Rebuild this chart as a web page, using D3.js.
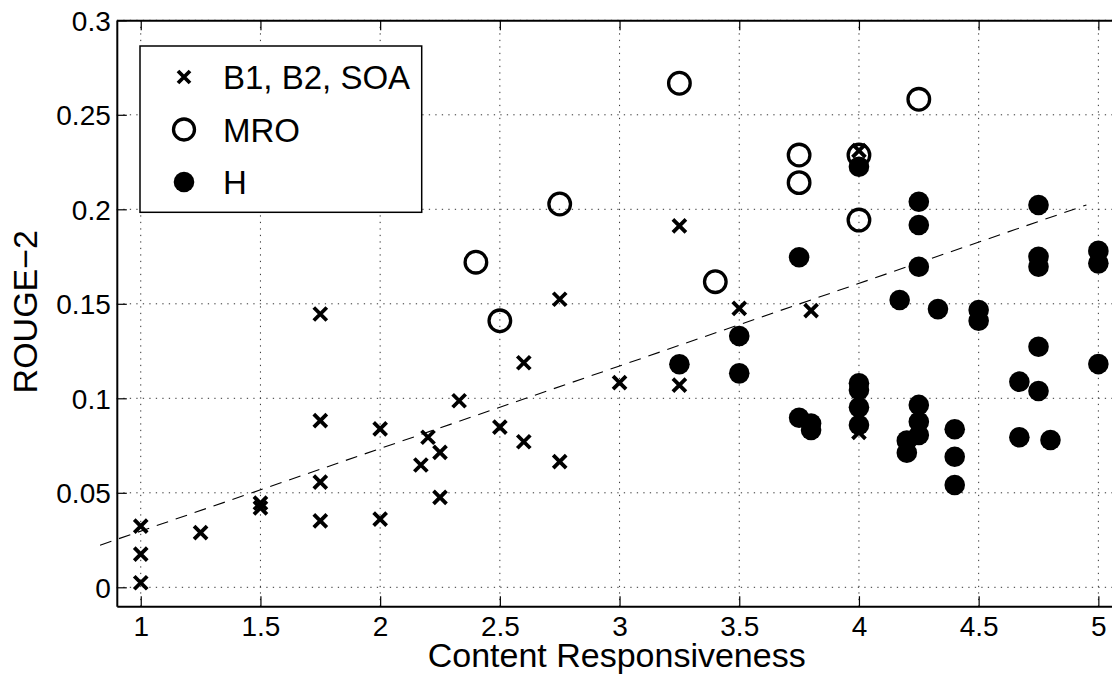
<!DOCTYPE html>
<html>
<head>
<meta charset="utf-8">
<script src="https://cdn.jsdelivr.net/npm/d3@7"></script>
<style>
  html, body { margin: 0; padding: 0; background: #fff; }
  svg text { font-family: "Liberation Sans", Arial, Helvetica, sans-serif; fill: #000; }
</style>
</head>
<body>
<svg id="chart" width="1112" height="679"></svg>
<script>
// ---- data ----
const xTicks = [1, 1.5, 2, 2.5, 3, 3.5, 4, 4.5, 5];
const yTicks = [0, 0.05, 0.1, 0.15, 0.2, 0.25, 0.3];
const xLabel = "Content Responsiveness";
const yLabel = "ROUGE\u22122";
const seriesNames = ["B1, B2, SOA", "MRO", "H"];

// B1, B2, SOA (crosses)
const baseX = [1, 1, 1, 1.25, 1.5, 1.5, 1.75, 1.75, 1.75, 1.75, 2, 2, 2.17, 2.2, 2.25, 2.25, 2.33, 2.5, 2.6, 2.6, 2.75, 2.75, 3, 3.25, 3.25, 3.5, 3.8, 4, 4];
const baseY = [0.0024, 0.0176, 0.0324, 0.0289, 0.042, 0.0445, 0.1446, 0.0882, 0.0556, 0.0351, 0.0838, 0.0361, 0.0647, 0.0794, 0.0714, 0.0476, 0.0987, 0.0847, 0.1188, 0.077, 0.1524, 0.0665, 0.1083, 0.1912, 0.107, 0.1476, 0.1464, 0.231, 0.0820];

// MRO (open circles)
const mroX = [2.4, 2.5, 2.75, 3.25, 3.4, 3.75, 3.75, 4, 4, 4.25];
const mroY = [0.172, 0.141, 0.2028, 0.2667, 0.1617, 0.2287, 0.2141, 0.2287, 0.1943, 0.2582];

// H (filled circles)
const hX = [3.25, 3.5, 3.5, 3.75, 3.75, 3.8, 3.8, 4, 4, 4, 4, 4, 4.17, 4.2, 4.2, 4.25, 4.25, 4.25, 4.25, 4.25, 4.25, 4.33, 4.4, 4.4, 4.4, 4.5, 4.5, 4.67, 4.67, 4.75, 4.75, 4.75, 4.75, 4.75, 4.8, 5, 5, 5];
const hY = [0.118, 0.133, 0.1132, 0.1746, 0.0897, 0.0867, 0.0832, 0.2225, 0.1079, 0.1044, 0.0952, 0.0859, 0.152, 0.0776, 0.0712, 0.204, 0.1917, 0.1696, 0.0965, 0.0876, 0.0806, 0.1472, 0.0836, 0.0691, 0.0541, 0.1467, 0.141, 0.1088, 0.0794, 0.2023, 0.1749, 0.1696, 0.1273, 0.1039, 0.0779, 0.178, 0.1714, 0.1181];

// trend line (least-squares fit, endpoints)
const trendX = [0.83, 4.95];
const trendY = [0.0223, 0.2023];

// ---- layout ----
const svg = d3.select("#chart");
const pL = 116.8, pR = 1122.3, pT = 20.3, pB = 606.2;
const x = d3.scaleLinear().domain([0.9, 5.1]).range([pL, pR]);
const y = d3.scaleLinear().domain([-0.01, 0.3]).range([pB, pT]);

// grid
const grid = svg.append("g");
grid.selectAll("line.gx").data(xTicks).join("line")
  .attr("x1", d => x(d)).attr("x2", d => x(d)).attr("y1", pT).attr("y2", pB)
  .attr("stroke", "#333").attr("stroke-width", 1).attr("stroke-dasharray", "1.3,5.2");
grid.selectAll("line.gy").data(yTicks).join("line")
  .attr("y1", d => y(d)).attr("y2", d => y(d)).attr("x1", pL).attr("x2", pR)
  .attr("stroke", "#333").attr("stroke-width", 1).attr("stroke-dasharray", "1.3,5.2");

// axes (MATLAB-style inward ticks)
const tickLen = 10;
const axB = svg.append("g").attr("transform", `translate(0,${pB})`)
  .call(d3.axisBottom(x).tickValues(xTicks).tickSizeInner(-tickLen).tickSizeOuter(0).tickPadding(10).tickFormat(d3.format("")));
const axT = svg.append("g").attr("transform", `translate(0,${pT})`)
  .call(d3.axisTop(x).tickValues(xTicks).tickSizeInner(-tickLen).tickSizeOuter(0).tickFormat(""));
const axL = svg.append("g").attr("transform", `translate(${pL},0)`)
  .call(d3.axisLeft(y).tickValues(yTicks).tickSizeInner(-tickLen).tickSizeOuter(0).tickPadding(6).tickFormat(d3.format("")));
const axR = svg.append("g").attr("transform", `translate(${pR},0)`)
  .call(d3.axisRight(y).tickValues(yTicks).tickSizeInner(-tickLen).tickSizeOuter(0).tickFormat(""));
[axB, axT, axL, axR].forEach(a => {
  a.select(".domain").attr("stroke", "#000").attr("stroke-width", 2);
  a.selectAll(".tick line").attr("stroke", "#000").attr("stroke-width", 1.2);
  a.selectAll("text").attr("font-size", 28).attr("font-family", "Liberation Sans, Arial, sans-serif").attr("fill", "#000");
});
axB.selectAll(".tick text").attr("dy", "0.71em");
axL.selectAll(".tick text").attr("dy", "0.36em");

// trend line
svg.append("line")
  .attr("x1", x(trendX[0])).attr("y1", y(trendY[0]))
  .attr("x2", x(trendX[1])).attr("y2", y(trendY[1]))
  .attr("stroke", "#000").attr("stroke-width", 1.1).attr("stroke-dasharray", "12,8");

// markers
const crossPath = s => `M${-s},${-s}L${s},${s}M${-s},${s}L${s},${-s}`;
const mro = mroX.map((v, i) => [v, mroY[i]]);
const base = baseX.map((v, i) => [v, baseY[i]]);
const hh = hX.map((v, i) => [v, hY[i]]);

svg.append("g").selectAll("circle").data(mro).join("circle")
  .attr("cx", d => x(d[0])).attr("cy", d => y(d[1])).attr("r", 10.8)
  .attr("fill", "none").attr("stroke", "#000").attr("stroke-width", 3.3);
svg.append("g").selectAll("path").data(base).join("path")
  .attr("transform", d => `translate(${x(d[0])},${y(d[1])})`)
  .attr("d", crossPath(6.5))
  .attr("fill", "none").attr("stroke", "#000").attr("stroke-width", 3.8);
svg.append("g").selectAll("circle").data(hh).join("circle")
  .attr("cx", d => x(d[0])).attr("cy", d => y(d[1])).attr("r", 10.3)
  .attr("fill", "#000");

// legend
const lg = svg.append("g");
lg.append("rect").attr("x", 140).attr("y", 46).attr("width", 281.7).attr("height", 166.3)
  .attr("fill", "#fff").attr("stroke", "#000").attr("stroke-width", 1.5);
const legY = [77, 129.5, 182];
lg.append("path").attr("transform", `translate(184,${legY[0]})`).attr("d", crossPath(6))
  .attr("fill", "none").attr("stroke", "#000").attr("stroke-width", 3.8);
lg.append("circle").attr("cx", 184).attr("cy", legY[1]).attr("r", 10.5)
  .attr("fill", "none").attr("stroke", "#000").attr("stroke-width", 3.3);
lg.append("circle").attr("cx", 184).attr("cy", legY[2]).attr("r", 10.3).attr("fill", "#000");
lg.selectAll("text").data(seriesNames).join("text")
  .attr("x", 223).attr("y", (d, i) => legY[i] + 12)
  .attr("font-size", 33).text(d => d);

// axis labels
svg.append("text").attr("x", 616.7).attr("y", 667).attr("text-anchor", "middle")
  .attr("font-size", 34).text(xLabel);
svg.append("text").attr("transform", "translate(36.5,311.7) rotate(-90)").attr("text-anchor", "middle")
  .attr("font-size", 34).text(yLabel);
</script>
</body>
</html>
